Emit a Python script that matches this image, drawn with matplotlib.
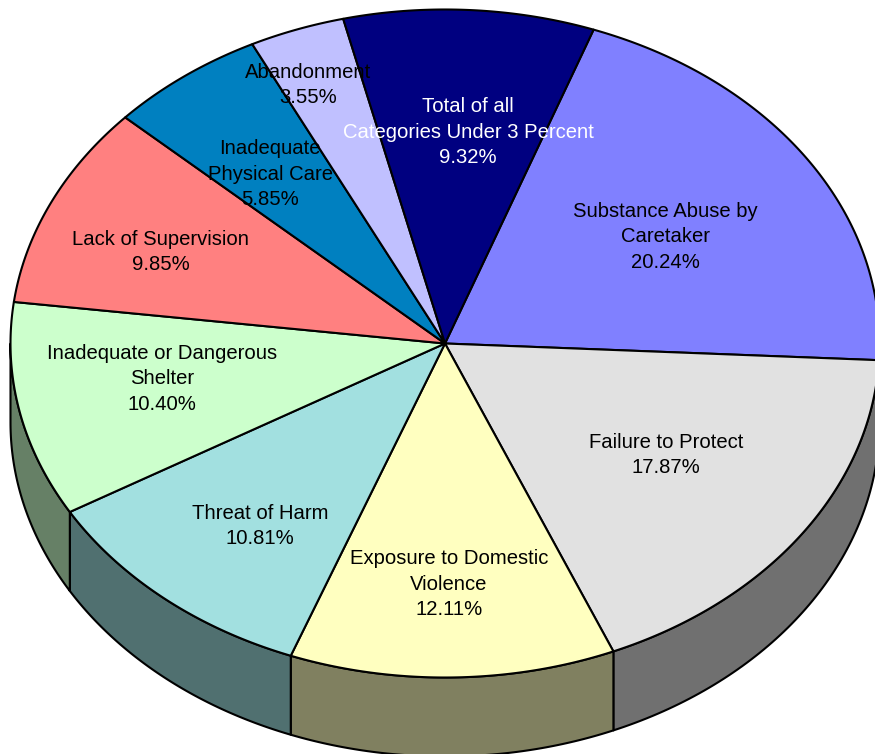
import matplotlib
matplotlib.use('Agg')
import matplotlib.pyplot as plt
import numpy as np

plt.rcParams['font.family'] = ['Liberation Sans', 'DejaVu Sans']

labels = ['Substance Abuse by\nCaretaker', 'Failure to Protect', 'Exposure to Domestic\nViolence',
          'Threat of Harm', 'Inadequate or Dangerous\nShelter', 'Lack of Supervision',
          'Inadequate\nPhysical Care', 'Abandonment', 'Total of all\nCategories Under 3 Percent']
values = [20.24, 17.87, 12.11, 10.81, 10.40, 9.85, 5.85, 3.55, 9.32]

colors = ['#8080ff', '#e1e1e1', '#ffffc0', '#a2e0e0', '#ccffcc', '#ff8080', '#0080c0', '#c0c0ff', '#000080']
side_colors = ['#404080', '#707070', '#808060', '#507070', '#668066', '#804040', '#004060', '#606080', '#000040']
text_colors = ['black'] * 8 + ['white']
# label centres in image pixels
label_x = [665, 666, 449, 260, 162, 161, 270, 308, 468]
label_y = [236, 454, 583, 525, 378, 251, 173, 84, 131]

W, H = 875, 754
CX, CY = 445, 343.5
RX, RY = 434.5, 334
DEPTH = 79
START = 70.0

fig = plt.figure(figsize=(W / 100, H / 100), dpi=100)
ax = fig.add_axes([0, 0, 1, 1])

# side wall first, only the front half of the ellipse shows
total = sum(values)
edges = START - np.cumsum([0] + values) * 360 / total
for i in range(len(values)):
    a0, a1 = edges[i], edges[i + 1]
    if a1 >= 0 or a0 <= -180:
        continue
    # clip to the 180..360 range, going clockwise
    hi = min(a0, 0)
    lo = max(a1, -180)
    t = np.radians(np.linspace(hi, lo, 80))
    x = CX + RX * np.cos(t)
    y = CY - RY * np.sin(t)
    px = np.concatenate([x, x[::-1]])
    py = np.concatenate([y, y[::-1] + DEPTH])
    ax.fill(px, py, facecolor=side_colors[i], edgecolor='black', linewidth=1.5, joinstyle='round', zorder=1)

# top face
for i in range(len(values)):
    t = np.radians(np.linspace(edges[i], edges[i + 1], 150))
    px = np.concatenate([[CX], CX + RX * np.cos(t)])
    py = np.concatenate([[CY], CY - RY * np.sin(t)])
    ax.fill(px, py, facecolor=colors[i], edgecolor='black', linewidth=1.5, joinstyle='round', zorder=2)

for i, name in enumerate(labels):
    ax.text(label_x[i], label_y[i] + 1, f'{name}\n{values[i]:.2f}%', color=text_colors[i], fontsize=14.6,
            ha='center', va='center', linespacing=1.45, zorder=3)

ax.set_xlim(0, W)
ax.set_ylim(H, 0)
ax.axis('off')
fig.savefig('out.png', dpi=100, facecolor='white')
